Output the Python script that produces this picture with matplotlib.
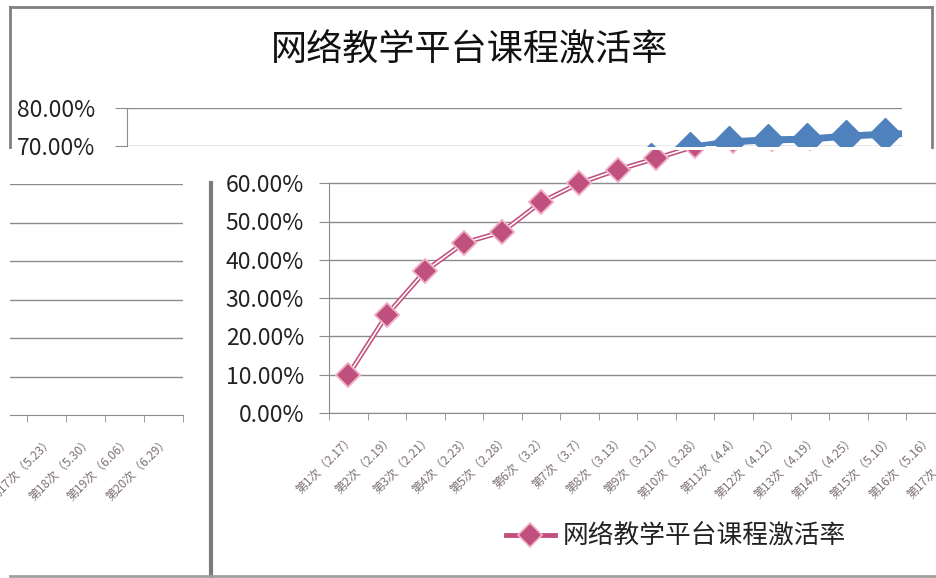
import matplotlib
matplotlib.use("Agg")
import matplotlib.pyplot as plt
from matplotlib.lines import Line2D

plt.rcParams['font.family'] = ['Noto Sans CJK SC', 'DejaVu Sans']

title = "网络教学平台课程激活率"
categories = ["第1次（2.17）", "第2次（2.19）", "第3次（2.21）", "第4次（2.23）",
              "第5次（2.28）", "第6次（3.2）", "第7次（3.7）", "第8次（3.13）",
              "第9次（3.21）", "第10次（3.28）", "第11次（4.4）", "第12次（4.12）",
              "第13次（4.19）", "第14次（4.25）", "第15次（5.10）", "第16次（5.16）",
              "第17次（5.23）", "第18次（5.30）", "第19次（6.06）", "第20次（6.29）"]
# activation rate in percent
rates = [9.9, 25.6, 37.1, 44.4, 47.3, 55.0, 60.0, 63.5, 66.5, 69.6,
         71.1, 71.6, 71.8, 72.6, 73.1, 73.4, 73.6, 73.9, 74.1, 74.3]
yticks_low = [0, 10, 20, 30, 40, 50, 60]
yticks_top = [70, 80]

W, H = 936, 578
PINK = "#C0507E"
BLUE = "#4F81BD"
GRID = "#8C8C8C"
xs = list(range(1, len(categories) + 1))


def box(x0, y0, x1, y1):
    # pixel box (top-left origin) -> figure fraction rect
    return [x0 / W, 1 - y1 / H, (x1 - x0) / W, (y1 - y0) / H]


def pct(v, _=None):
    return f"{v:.2f}%"


def style_axes(ax, yt, show_ylabels=True):
    for s in ["top", "right"]:
        ax.spines[s].set_visible(False)
    ax.spines["left"].set_color(GRID)
    ax.spines["bottom"].set_color(GRID)
    ax.set_yticks(yt)
    ax.yaxis.grid(True, color=GRID, lw=1)
    ax.set_axisbelow(True)
    ax.tick_params(axis="y", length=7, color=GRID, labelsize=16.5,
                   labelcolor="#222222", pad=11)
    if show_ylabels:
        ax.set_yticklabels([pct(v) for v in yt])
    else:
        ax.set_yticklabels([])
    ax.patch.set_alpha(0)


def category_axis(a):
    a.set_xticks(xs)
    a.set_xticklabels(categories, rotation=45, ha="right", va="top",
                      rotation_mode="anchor", fontsize=8.6, color="#7d7075")
    a.set_xticks([x - 0.5 for x in xs] + [20.5], minor=True)
    a.tick_params(axis="x", which="major", length=0, pad=14)
    a.tick_params(axis="x", which="minor", length=5, color=GRID)


fig = plt.figure(figsize=(W / 100, H / 100), dpi=100)

# --- top strip (upper part of the value axis) ---
ax_top = fig.add_axes(box(127, 108, 902, 146))
style_axes(ax_top, yticks_top)
ax_top.spines["bottom"].set_visible(False)
ax_top.tick_params(axis="y", length=9, pad=14)
ax_top.set_xticks([])
ax_top.plot(xs, rates, color=BLUE, lw=5, marker="D", ms=16, zorder=3)
ax_top.set_xlim(1 + (127 - 339.5) / 39, 1 + (902 - 339.5) / 39)
ax_top.set_ylim(70, 80)

# --- main lower chart ---
ax = fig.add_axes(box(329, 150, 329 + 38.5 * 20, 413))
style_axes(ax, yticks_low)
ax.spines["left"].set_bounds(0, 60)
line, = ax.plot(xs, rates, color=PINK, lw=3.5, marker="D", ms=12,
                mfc=PINK, mec="#F2B3CA", mew=1.2, zorder=3, label=title)
ax.plot(xs, rates, color="white", lw=1.2, zorder=4)
ax.plot(xs, rates, ls="none", marker="D", ms=12, mfc=PINK, mec="#F2B3CA",
        mew=1.2, zorder=5)
category_axis(ax)
ax.set_xlim(0.5, 20.5)
ax.set_ylim(0, (413 - 150) / 3.83)

# --- left panel (tail of the category axis) ---
ax_l = fig.add_axes(box(10, 184, 183, 415))
style_axes(ax_l, yticks_low[1:], show_ylabels=False)
ax_l.spines["left"].set_visible(False)
ax_l.tick_params(axis="y", length=0)
ax_l.plot(xs, rates, color=PINK, lw=3.5, marker="D", ms=12, mfc=PINK)
category_axis(ax_l)
ax_l.set_xlim(16.5 - 17 / 39, 20.5)
ax_l.set_ylim(0, 60)

# frame and divider lines of the screenshot
frame = dict(color="#808080", lw=2, transform=fig.transFigure)
fig.add_artist(Line2D([10 / W, 932 / W], [1 - 7 / H] * 2, **frame))
fig.add_artist(Line2D([10 / W] * 2, [1 - 7 / H, 1 - 147 / H], **frame))
fig.add_artist(Line2D([932 / W] * 2, [1 - 7 / H, 1 - 147 / H], **frame))
fig.add_artist(Line2D([211 / W] * 2, [0, 1 - 183 / H], color="#7a7a7a",
                      lw=3, transform=fig.transFigure))
fig.add_artist(Line2D([10 / W, 1], [2 / H] * 2, color="#a0a0a0", lw=2,
                      transform=fig.transFigure))

fig.text(470 / W, 1 - 50 / H, title, ha="center", va="center", fontsize=26,
         color="#111111")

fig.legend(handles=[line], labels=[title], loc="center left",
           bbox_to_anchor=(506 / W, 1 - 537 / H), frameon=False,
           fontsize=18.5, handlelength=1.9, handletextpad=0.3,
           borderpad=0, borderaxespad=0, labelcolor="#222222")

fig.savefig("out.png", dpi=100)
